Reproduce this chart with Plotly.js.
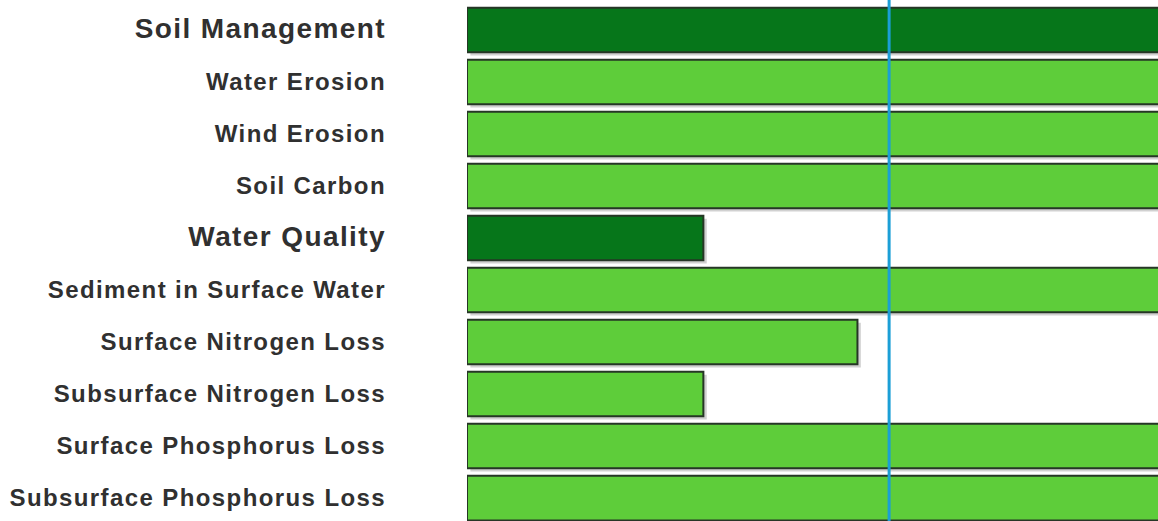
<!DOCTYPE html>
<html>
<head>
<meta charset="utf-8">
<script src="https://cdn.plot.ly/plotly-3.0.1.min.js"></script>
<style>
  html, body { margin: 0; padding: 0; background: #ffffff; }
  #chart { width: 1158px; height: 521px; }
  /* wide-set row labels */
  #chart g.ytick text { letter-spacing: 1.4px; }
</style>
</head>
<body>
<div id="chart"></div>
<script>
// Indicator rows, top to bottom; group headers are drawn larger
const categories = [
  "Soil Management",
  "Water Erosion",
  "Wind Erosion",
  "Soil Carbon",
  "Water Quality",
  "Sediment in Surface Water",
  "Surface Nitrogen Loss",
  "Subsurface Nitrogen Loss",
  "Surface Phosphorus Loss",
  "Subsurface Phosphorus Loss"
];
const isHeader = [true, false, false, false, true, false, false, false, false, false];

// Score relative to the threshold (threshold = 1.0)
const scores = [1.8, 1.8, 1.8, 1.8, 0.56, 1.8, 0.925, 0.56, 1.8, 1.8];
const threshold = 1.0;

const headerColor = "#06761a";
const itemColor = "#5ecd3a";
const barColors = isHeader.map(h => h ? headerColor : itemColor);

const tickText = categories.map((c, i) =>
  isHeader[i] ? '<span style="font-size:28px">' + c + '</span>' : c);

const barWidth = 0.86;

// soft drop shadow beneath each bar
const shadow = {
  type: "bar",
  orientation: "h",
  y: categories,
  x: scores,
  base: 0.008,
  width: barWidth,
  offset: -barWidth / 2 + 0.06,
  marker: { color: "rgba(0,0,0,0.18)", line: { width: 0 } },
  hoverinfo: "skip",
  showlegend: false
};

const bars = {
  type: "bar",
  orientation: "h",
  y: categories,
  x: scores,
  width: barWidth,
  offset: -barWidth / 2,
  marker: { color: barColors, line: { color: "#263626", width: 2 } },
  showlegend: false
};

const layout = {
  width: 1158,
  height: 521,
  margin: { l: 467, r: 0, t: 0, b: 0, pad: 0 },
  paper_bgcolor: "#ffffff",
  plot_bgcolor: "#ffffff",
  barmode: "overlay",
  xaxis: {
    range: [0, 1.637],
    showgrid: false,
    zeroline: false,
    showticklabels: false,
    showline: false,
    fixedrange: true
  },
  yaxis: {
    type: "category",
    categoryorder: "array",
    categoryarray: categories,
    range: [9.442, -0.577],
    tickmode: "array",
    tickvals: categories,
    ticktext: tickText,
    ticks: "",
    ticklabelstandoff: 80,
    tickfont: { family: "Liberation Sans, Arial, sans-serif", size: 24, color: "#303030", weight: "bold" },
    showgrid: false,
    zeroline: false,
    showline: false,
    fixedrange: true
  },
  shapes: [{
    type: "line",
    xref: "x", yref: "paper",
    x0: threshold, x1: threshold, y0: 0, y1: 1,
    line: { color: "#1b9fd6", width: 3 },
    layer: "above"
  }]
};

Plotly.newPlot("chart", [shadow, bars], layout, { displayModeBar: false, staticPlot: true });
</script>
</body>
</html>
